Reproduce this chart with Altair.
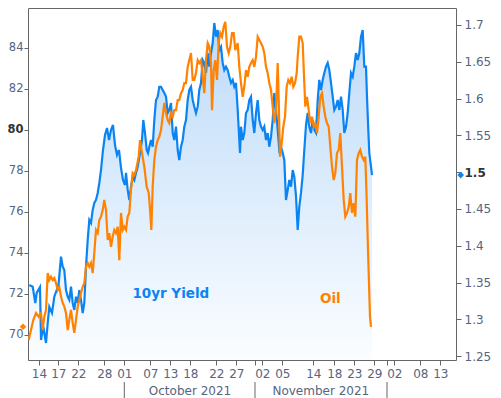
import altair as alt
import pandas as pd

# ---------------- data ----------------
oil_t = [0.7, 3, 5.3, 8, 10.7, 13, 14.7, 16.3, 18, 19.7, 21.3, 23, 24.7, 26.3, 28, 29.7, 31.3, 33, 34.7, 36.3,
         38, 39.7, 41.3, 43, 44.7, 46.3, 48, 49.7, 51.3, 53, 54.7, 56.3, 58, 59.7, 61.3, 63, 64.7, 66.3, 68, 69.7,
         71.3, 73, 74.7, 76.3, 78, 79.7, 81.3, 83, 84.7, 86.3, 88, 89.7, 91.3, 93, 94.7, 96.3, 98, 99.7, 101.3, 103,
         104.7, 106.3, 108, 110.7, 112, 114, 116.3, 118.7, 120.7, 122.3, 123.3, 124.7, 126.3, 128, 129.7, 131.3, 133,
         134.7, 136.3, 138, 139.7, 141.3, 143, 144.7, 146.3, 148, 149.7, 151.3, 153, 154.7, 156.3, 158, 159.7, 161.3,
         163, 164.7, 166.3, 168, 169.7, 171.3, 173, 174.7, 176.3, 178, 179.7, 181.3, 183, 184, 185.7, 187.3, 189,
         190.7, 192.3, 194, 195.7, 197.3, 199, 200.7, 202.3, 204, 205.7, 207.3, 209.7, 211.3, 213, 214.7, 216.3, 218,
         219.7, 221.3, 223, 224.7, 226.3, 228, 229.7, 231.3, 233, 234.7, 236.3, 238, 239.7, 241.3, 243, 244.7, 246.3,
         248, 249.7, 250.7, 252, 254, 255.3, 257, 258.7, 260.3, 262, 263.7, 265.3, 267, 268.7, 269.7, 271.3, 273,
         274.7, 276.3, 277.3, 279, 280.7, 282.3, 284, 285.7, 287.3, 289, 290.7, 292.3, 294, 295.7, 297.3, 299, 300.7,
         302.3, 304, 305.7, 307.3, 309, 310.7, 312.3, 314, 315.7, 317.3, 319, 320.7, 322.3, 324, 325.7, 327.3, 329,
         330.7, 332.3, 334, 335.7, 337.3, 338.7, 340, 341, 342, 343]
oil_v = [69.76, 70.24, 70.73, 71.07, 70.89, 71.07, 70.24, 70.89, 71.22, 73.02, 72.68, 72.84, 72.68, 72.78, 72.53,
         72.19, 72.35, 71.87, 71.56, 71.38, 71.07, 70.24, 70.73, 71.22, 70.58, 70.10, 70.73, 71.38, 71.71, 72.05,
         72.35, 72.53, 73.33, 73.51, 73.33, 73.51, 73.02, 74.0, 75.12, 74.97, 75.60, 75.77, 76.09, 76.58, 76.09,
         74.63, 74.97, 74.30, 74.79, 75.12, 74.97, 75.28, 73.65, 75.95, 75.12, 75.28, 75.12, 75.77, 75.95, 77.07,
         77.89, 77.80, 78.04, 78.69, 79.50, 78.87, 78.20, 77.23, 76.92, 75.95, 75.12, 77.23, 78.53, 79.18, 79.50,
         79.66, 79.99, 80.64, 81.31, 80.82, 80.48, 80.33, 80.82, 80.64, 80.96, 80.96, 81.45, 81.45, 81.79, 81.94,
         82.28, 82.28, 83.07, 83.40, 83.74, 82.43, 82.43, 82.77, 83.40, 83.26, 83.40, 82.59, 81.79, 83.40, 84.23,
         84.05, 83.26, 80.96, 82.91, 83.40, 82.43, 84.23, 84.72, 84.54, 85.02, 85.27, 84.05, 83.74, 84.05, 84.72,
         84.72, 83.89, 84.23, 83.07, 82.28, 81.61, 82.10, 82.91, 82.59, 83.07, 83.26, 83.40, 83.07, 83.56, 84.54,
         84.38, 84.23, 84.05, 83.74, 83.07, 82.77, 82.28, 81.94, 81.13, 80.33, 80.96, 83.26, 81.45, 78.69, 79.50,
         80.15, 80.64, 82.10, 82.43, 82.28, 82.59, 82.10, 82.28, 82.77, 83.56, 84.54, 84.54, 84.23, 82.28, 81.13,
         81.61, 80.96, 80.33, 80.64, 80.15, 80.33, 79.84, 80.64, 81.61, 81.79, 81.13, 80.64, 80.33, 80.15, 79.18,
         78.20, 77.55, 77.89, 78.87, 79.02, 79.84, 78.20, 76.58, 75.77, 75.95, 76.25, 76.92, 75.95, 76.43, 75.77,
         78.53, 78.87, 79.02, 78.69, 78.53, 78.69, 76.58, 74.14, 72.53, 70.89, 70.40]

yld_t = [1.3, 4.7, 7.3, 8.7, 12, 13, 15.3, 18, 19.7, 21.3, 24, 26.3, 28.7, 30.7, 33, 34.7, 36.3, 38, 39.7, 41.3,
         43, 44.7, 46.3, 48, 49.7, 51.3, 53, 54.7, 56.3, 58, 59.7, 61.3, 63, 64.7, 66.3, 68, 69.7, 71.3, 73, 75, 77,
         79, 81, 83, 85, 87, 89, 91, 93, 95, 97, 98, 99.7, 101.3, 103, 104.7, 106.3, 108, 109.7, 112, 114, 115.3, 117,
         118.7, 120, 121.3, 123, 124.7, 126.3, 128, 129.7, 131.3, 133, 134.7, 136.3, 138, 139.7, 141.3, 143, 144.7,
         146.3, 148, 149.7, 151.3, 153, 154.7, 156.3, 158, 159.7, 161.3, 163, 164.7, 166.3, 168, 169.7, 171.3, 173,
         174.7, 176.3, 178, 179.7, 181.3, 183, 184.7, 186.3, 188, 189.7, 191.3, 193, 194.7, 196.3, 198, 199.7, 201.3,
         203, 204.7, 206.3, 208, 209.7, 211.3, 212, 213, 214.7, 216.3, 218, 219.7, 221.3, 223, 224.7, 226.3, 228,
         229.7, 231.3, 233, 234.7, 236.3, 238, 239.7, 241.3, 243, 244.7, 246.3, 248, 249.7, 251.3, 253, 254.7, 256.3,
         258, 259.7, 261.3, 263, 264.7, 266.3, 268, 269.7, 271.3, 273, 274.7, 276.3, 278, 279.7, 281.3, 283, 284.7,
         286.3, 288, 289.7, 291.3, 293, 294.7, 296.3, 298, 299.7, 301.3, 303, 304.7, 306.3, 308, 309.7, 311.3, 313,
         314.7, 316.3, 318, 319.7, 321.3, 323, 324.7, 326.3, 328, 329.7, 331.3, 333, 334.7, 336.3, 338, 339, 340.3,
         341.3, 343, 344]
yld_v = [1.3466, 1.3443, 1.3222, 1.3358, 1.3439, 1.2719, 1.2900, 1.2678, 1.2950, 1.3171, 1.3086, 1.3307, 1.3398,
         1.3494, 1.3851, 1.3715, 1.3670, 1.3398, 1.3307, 1.3263, 1.3443, 1.3222, 1.3127, 1.3307, 1.3222, 1.3398,
         1.3263, 1.3086, 1.3222, 1.3715, 1.4078, 1.4350, 1.4309, 1.4486, 1.4581, 1.4622, 1.4717, 1.4853, 1.5029,
         1.5301, 1.5505, 1.5600, 1.5437, 1.5573, 1.5641, 1.5369, 1.5233, 1.5301, 1.5057, 1.4893, 1.4825, 1.4989,
         1.4758, 1.4622, 1.4802, 1.4938, 1.4893, 1.4989, 1.5074, 1.5260, 1.5437, 1.5709, 1.5532, 1.5301, 1.5260,
         1.5346, 1.5437, 1.5346, 1.5709, 1.5981, 1.6026, 1.6161, 1.6161, 1.6117, 1.6076, 1.6026, 1.5804, 1.5845,
         1.5940, 1.5532, 1.5437, 1.5618, 1.5301, 1.5165, 1.5346, 1.5437, 1.5618, 1.5709, 1.5981, 1.6117, 1.6161,
         1.5981, 1.5890, 1.5804, 1.5890, 1.6117, 1.6212, 1.6524, 1.6484, 1.6348, 1.6619, 1.6433, 1.6619, 1.6755,
         1.7027, 1.6841, 1.6932, 1.6660, 1.6705, 1.6484, 1.6388, 1.6433, 1.6388, 1.6297, 1.6212, 1.6253, 1.6161,
         1.6212, 1.5845, 1.5437, 1.5260, 1.5618, 1.5437, 1.5532, 1.5804, 1.5845, 1.5981, 1.6026, 1.5709, 1.5532,
         1.5804, 1.5981, 1.5709, 1.5618, 1.5573, 1.5618, 1.5437, 1.5532, 1.5346, 1.5482, 1.5709, 1.6076, 1.5845,
         1.5573, 1.5301, 1.5346, 1.5260, 1.5165, 1.4622, 1.4758, 1.4893, 1.4802, 1.5029, 1.4938, 1.4676, 1.4214,
         1.4531, 1.4717, 1.4961, 1.5301, 1.5641, 1.5804, 1.5618, 1.5532, 1.5709, 1.5573, 1.5532, 1.5981, 1.6253,
         1.6117, 1.6253, 1.6348, 1.6433, 1.6484, 1.6388, 1.6212, 1.6026, 1.5845, 1.5890, 1.5981, 1.5845, 1.6026,
         1.5845, 1.5532, 1.5618, 1.5804, 1.6076, 1.6348, 1.6297, 1.6433, 1.6619, 1.6524, 1.6619, 1.6841, 1.6932,
         1.6433, 1.6433, 1.6026, 1.5573, 1.5260, 1.5074, 1.4961]

tick_t = [11, 30.3, 50.3, 76.3, 96.3, 122.3, 142.3, 162.3, 188.3, 208.3, 227, 234.3, 254.3, 285.3, 306.3, 326.3,
          346.3, 359, 366.3, 392.3, 412.3]
tick_labels = ["14", "17", "22", "28", "01", "07", "13", "18", "22", "27", "", "02", "05", "14", "18", "23",
               "29", "", "02", "08", "13"]
month_bounds = [96.3, 227, 359]
month_names = ["October 2021", "November 2021"]
month_centers = [162, 292.8]

oil_ticks = [70, 72, 74, 76, 78, 80, 82, 84]
yld_ticks = [1.25, 1.3, 1.35, 1.4, 1.45, 1.5, 1.55, 1.6, 1.65, 1.7]
oil_domain = [68.78, 85.94]
yld_domain = [1.2447, 1.7231]
x_domain = [0, 428]

# ---------------- styling ----------------
W, H = 428, 352
FONT = "DejaVu Sans"
LAB = "#56657f"
BLUE = "#0b84f3"
ORANGE = "#ff8200"
GREY = "#666666"

oil_df = pd.DataFrame({"t": oil_t, "oil": oil_v})
yld_df = pd.DataFrame({"t": yld_t, "yld": yld_v})

label_expr = ("[" + ",".join(f"'{l}'" for l in tick_labels) + "][indexof(["
              + ",".join(str(v) for v in tick_t) + "], datum.value)]")

xscale = alt.Scale(domain=x_domain, nice=False, zero=False)
xaxis = alt.Axis(values=tick_t, labelExpr=label_expr, title=None, grid=False, domain=False,
                 tickColor=GREY, tickSize=5, labelPadding=3, labelFont=FONT, labelFontSize=12,
                 labelColor=LAB, labelOverlap=False, labelFlush=False, labelBound=False)
X = alt.X("t:Q", scale=xscale, axis=xaxis)

yaxis_r = alt.Axis(orient="right", values=yld_ticks, format=".2~f", title=None, grid=False, domain=False,
                   tickColor=GREY, tickSize=5, labelPadding=3, labelFont=FONT, labelFontSize=12,
                   labelColor={"condition": {"test": "datum.value == 1.5", "value": "#333333"}, "value": LAB},
                   labelFontWeight={"condition": {"test": "datum.value == 1.5", "value": "bold"}, "value": "normal"})
yaxis_l = alt.Axis(orient="left", values=oil_ticks, title=None, grid=False, domain=False,
                   tickColor=GREY, tickSize=4, labelPadding=1, labelFont=FONT, labelFontSize=11.5,
                   labelColor={"condition": {"test": "datum.value == 80", "value": "#333333"}, "value": LAB},
                   labelFontWeight={"condition": {"test": "datum.value == 80", "value": "bold"}, "value": "normal"})
YR = alt.Y("yld:Q", scale=alt.Scale(domain=yld_domain, nice=False, zero=False), axis=yaxis_r)
YL = alt.Y("oil:Q", scale=alt.Scale(domain=oil_domain, nice=False, zero=False), axis=yaxis_l)

grad = alt.Gradient(gradient="linear",
                    stops=[alt.GradientStop(color="#bddbf9", offset=0),
                           alt.GradientStop(color="#fbfdff", offset=1)],
                    x1=0, x2=0, y1=0, y2=1)

area = alt.Chart(yld_df).mark_area(color=grad, clip=True).encode(x=X, y=YR, y2=alt.datum(yld_domain[0]))
line_b = alt.Chart(yld_df).mark_line(color=BLUE, strokeWidth=2.2, clip=True).encode(x=X, y=YR)
dia_b = alt.Chart(pd.DataFrame({"yld": [yld_v[-1]]})).mark_point(
    shape="diamond", filled=True, size=45, color=BLUE, opacity=1).encode(x=alt.value(W + 4.7), y=YR)
blue = alt.layer(area, line_b, dia_b)

line_o = alt.Chart(oil_df).mark_line(color=ORANGE, strokeWidth=2.2, clip=True).encode(x=X, y=YL)
dia_o = alt.Chart(pd.DataFrame({"oil": [oil_v[-1]]})).mark_point(
    shape="diamond", filled=True, size=45, color=ORANGE, opacity=1).encode(x=alt.value(-5), y=YL)
orange = alt.layer(line_o, dia_o)

rules = alt.Chart(pd.DataFrame({"t": month_bounds})).mark_rule(color=GREY, strokeWidth=1).encode(
    x=X, y=alt.value(H + 22), y2=alt.value(H + 40))
months = alt.Chart(pd.DataFrame({"t": month_centers, "name": month_names})).mark_text(
    font=FONT, fontSize=12, color=LAB, baseline="middle").encode(x=X, y=alt.value(H + 31), text="name:N")

lbl_y = alt.Chart(pd.DataFrame({"s": ["10yr Yield"]})).mark_text(
    font=FONT, fontSize=13.5, fontWeight="bold", color=BLUE, baseline="middle").encode(
    x=alt.value(142.8), y=alt.value(286), text="s:N")
lbl_o = alt.Chart(pd.DataFrame({"s": ["Oil"]})).mark_text(
    font=FONT, fontSize=13.5, fontWeight="bold", color=ORANGE, baseline="middle").encode(
    x=alt.value(302.3), y=alt.value(291), text="s:N")

chart = alt.layer(blue, orange, rules, months, lbl_y, lbl_o).resolve_scale(y="independent").properties(
    width=W, height=H,
    padding={"left": 20, "top": 0, "right": 37, "bottom": 38},
    autosize=alt.AutoSizeParams(type="none"),
    background="white",
).configure_view(stroke=GREY, strokeWidth=1)

chart.save("out.html", embed_options={"renderer": "svg", "actions": False})
